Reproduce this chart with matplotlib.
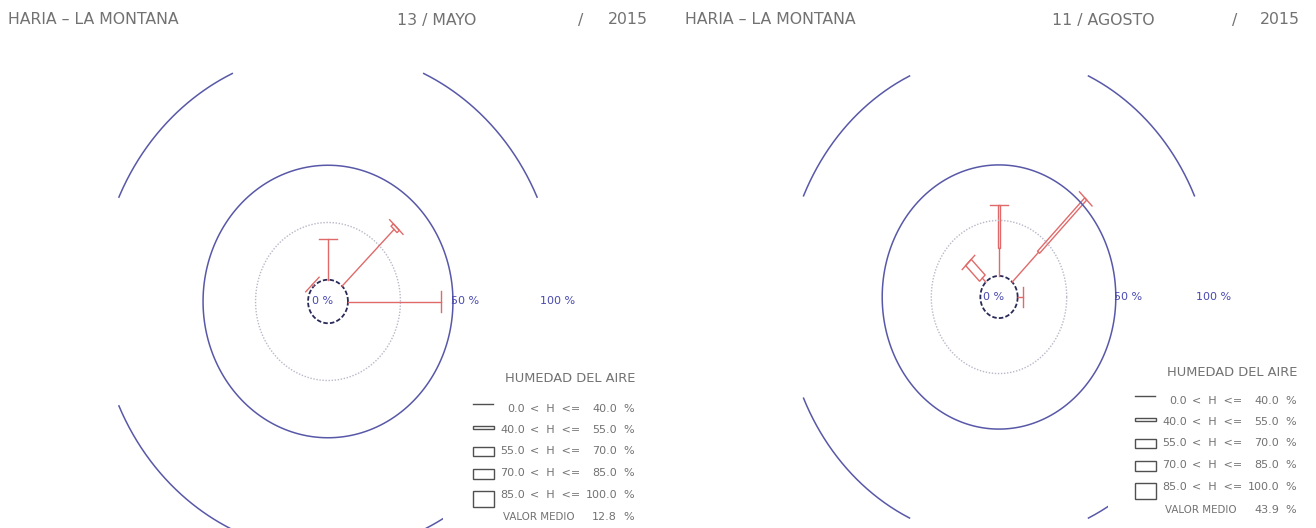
import numpy as np
import matplotlib
matplotlib.use("Agg")
import matplotlib.pyplot as plt
from matplotlib.patches import Polygon, Rectangle

# ---------------- data ----------------
station = "HARIA \u2013 LA MONTANA"
dates = ["13 / MAYO", "11 / AGOSTO"]
year_parts = ["/", "2015"]
legend_title = "HUMEDAD DEL AIRE"
hum_bounds = [0.0, 40.0, 55.0, 70.0, 85.0, 100.0]
mean_hum = [12.8, 43.9]
ring_pcts = [0, 25, 50, 100]
ring_labels = ["0 %", "50 %", "100 %"]

# compass direction -> segments (humidity class, frequency %)
may_dirs = ["N", "NE", "E", "NW"]
may_segs = [[(1, 18.0)], [(1, 35.0), (3, 1.5)], [(1, 44.5)], [(1, 1.0)]]
aug_dirs = ["N", "NE", "E", "NW"]
aug_segs = [[(1, 12.5), (2, 19.5)], [(1, 19.0), (2, 34.0)], [(1, 2.5)], [(1, 2.5), (3, 10.0)]]

compass_angle = {"N": 90, "NE": 45, "E": 0, "SE": -45, "S": -90, "SW": -135, "W": 180, "NW": 135}

# ---------------- style / layout ----------------
W, H = 1316, 528
R0 = 9.5
FONT = ["DejaVu Sans"]
TXT = "#727272"
BLUE = "#4848b0"
RING = "#5858a8"
RED = "#e06a6a"
HALFW = {1: 0.0, 2: 0.7, 3: 2.0, 4: 2.5, 5: 3.7}
LEG_H = {2: 3.0, 3: 9.0, 4: 10.5, 5: 16.0}

panels = [
    dict(x0=0, x1=658, cx=328, cy=301.5, kx=2.10, ky=2.29, dirs=may_dirs, segs=may_segs,
         date=dates[0], mean=mean_hum[0], tx=[8, 397, 578, 648],
         lx=473, ly=[378, 409, 430, 451, 473, 495, 517], box=(443, 362)),
    dict(x0=658, x1=1316, cx=999, cy=297, kx=1.963, ky=2.22, dirs=aug_dirs, segs=aug_segs,
         date=dates[1], mean=mean_hum[1], tx=[685, 1052, 1232, 1300],
         lx=1135, ly=[372, 401, 422, 443, 465, 487, 510], box=(1108, 356)),
]

fig = plt.figure(figsize=(W / 100, H / 100), dpi=100)


def ellipse_arc(ax, r, a0, a1, **kw):
    t = np.deg2rad(np.linspace(a0, a1, 200))
    ax.plot(r * np.cos(t), r * np.sin(t), **kw)


def draw_spoke(ax, ang, segs):
    th = np.deg2rad(ang)
    u = np.array([np.cos(th), np.sin(th)])
    n = np.array([-np.sin(th), np.cos(th)])
    r = R0
    for cls, p in segs:
        r2 = r + p
        hw = HALFW[cls]
        if hw == 0:
            a, b = u * r, u * r2
            ax.plot([a[0], b[0]], [a[1], b[1]], color=RED, lw=1.0)
        else:
            pts = [u * r + n * hw, u * r2 + n * hw, u * r2 - n * hw, u * r - n * hw]
            ax.add_patch(Polygon(pts, closed=True, fill=False, ec=RED, lw=1.0))
        r = r2
    cap = 4.5
    a, b = u * r + n * cap, u * r - n * cap
    ax.plot([a[0], b[0]], [a[1], b[1]], color=RED, lw=1.0)


for P in panels:
    ax = fig.add_axes([P["x0"] / W, 0, (P["x1"] - P["x0"]) / W, 1])
    ax.set_xlim((P["x0"] - P["cx"]) / P["kx"], (P["x1"] - P["cx"]) / P["kx"])
    ax.set_ylim((P["cy"] - H) / P["ky"], P["cy"] / P["ky"])
    ax.axis("off")
    ax.set_zorder(1)

    # rings
    ellipse_arc(ax, R0 + ring_pcts[0], 0, 360, color="#2a2a5a", lw=1.3, ls=(0, (2.5, 1.2)))
    ellipse_arc(ax, R0 + ring_pcts[1], 0, 360, color="#b8b8c8", lw=1.0, ls=(0, (1, 1.2)))
    ellipse_arc(ax, R0 + ring_pcts[2], 0, 360, color=RING, lw=1.1)
    for c in [45, 135, 225, 315]:
        ellipse_arc(ax, R0 + ring_pcts[3], c - 20.4, c + 20.4, color=RING, lw=1.1)

    # spokes
    for d, segs in zip(P["dirs"], P["segs"]):
        draw_spoke(ax, compass_angle[d], segs)

    # ring labels
    ax.text(-2.6, 0, ring_labels[0], color=BLUE, fontsize=8, family=FONT, ha="center", va="center")
    ax.text(R0 + 49.0, 0, ring_labels[1], color=BLUE, fontsize=8, family=FONT, ha="left", va="center")
    ax.text(R0 + 100, 0, ring_labels[2], color=BLUE, fontsize=8, family=FONT, ha="center", va="center")

# overlay for titles and legends (pixel coordinates)
ov = fig.add_axes([0, 0, 1, 1])
ov.set_xlim(0, W)
ov.set_ylim(H, 0)
ov.axis("off")
ov.set_zorder(5)

for P in panels:
    tx = P["tx"]
    ov.text(tx[0], 20, station, color=TXT, fontsize=11.3, family=FONT, ha="left", va="center")
    ov.text(tx[1], 20, P["date"], color=TXT, fontsize=11.3, family=FONT, ha="left", va="center")
    ov.text(tx[2], 20, year_parts[0], color=TXT, fontsize=11.3, family=FONT, ha="left", va="center")
    ov.text(tx[3], 20, year_parts[1], color=TXT, fontsize=11.3, family=FONT, ha="right", va="center")

    bx, by = P["box"]
    ov.add_patch(Rectangle((bx, by), P["x1"] - bx, H - by, fc="white", ec="none", zorder=1))

    lx = P["lx"]
    ly = P["ly"]
    ov.text(lx + 32, ly[0], legend_title, color=TXT, fontsize=9.4, family=FONT, ha="left", va="center", zorder=3)
    for i in range(5):
        y = ly[i + 1]
        cls = i + 1
        if cls == 1:
            ov.plot([lx, lx + 20], [y - 5, y - 5], color="#505050", lw=1.0, zorder=3)
        else:
            hh = LEG_H[cls]
            ov.add_patch(Rectangle((lx, y - 4.5), 21, hh, fill=False, ec="#505050", lw=1.0, zorder=3))
        lo, hi = hum_bounds[i], hum_bounds[i + 1]
        ov.text(lx + 52, y, f"{lo:.1f}", color=TXT, fontsize=8, family=FONT, ha="right", va="center", zorder=3)
        ov.text(lx + 57, y, "<  H  <=", color=TXT, fontsize=8, family=FONT, ha="left", va="center", zorder=3)
        ov.text(lx + 144, y, f"{hi:.1f}", color=TXT, fontsize=8, family=FONT, ha="right", va="center", zorder=3)
        ov.text(lx + 150, y, "%", color=TXT, fontsize=8, family=FONT, ha="left", va="center", zorder=3)
    y = ly[6]
    ov.text(lx + 30, y, "VALOR MEDIO", color=TXT, fontsize=7.4, family=FONT, ha="left", va="center", zorder=3)
    ov.text(lx + 144, y, f"{P['mean']:.1f}", color=TXT, fontsize=8, family=FONT, ha="right", va="center", zorder=3)
    ov.text(lx + 150, y, "%", color=TXT, fontsize=8, family=FONT, ha="left", va="center", zorder=3)

fig.savefig("out.png", dpi=100, facecolor="white")
